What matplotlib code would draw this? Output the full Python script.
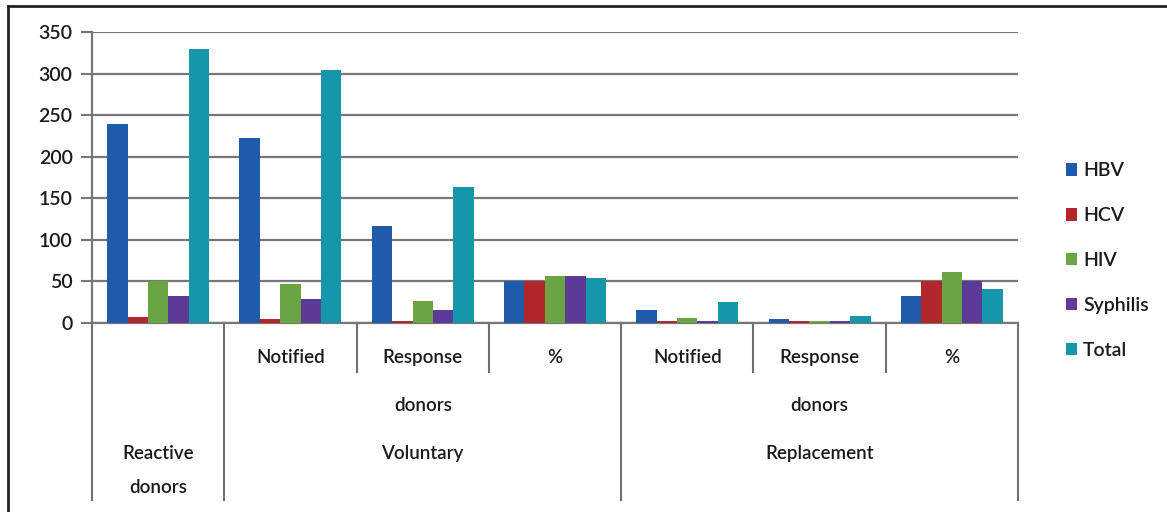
import matplotlib.pyplot as plt
from matplotlib.lines import Line2D
from matplotlib.patches import Patch
import numpy as np

plt.rcParams['font.family'] = ['Lato', 'DejaVu Sans']
plt.rcParams['font.weight'] = 'semibold'
plt.rcParams['text.color'] = '#1a1a1a'

series = ['HBV', 'HCV', 'HIV', 'Syphilis', 'Total']
colors = ['#1f5baa', '#b3262c', '#6aa544', '#5c3b98', '#1596aa']

# groups: Reactive donors | Voluntary: Notified, Response, % | Replacement: Notified, Response, %
hbv = [239, 223, 117, 51, 16, 5, 32]
hcv = [7, 5, 3, 51, 3, 2, 51]
hiv = [51, 47, 27, 57, 6, 2, 61]
syphilis = [32, 29, 16, 57, 3, 2, 51]
total = [330, 304, 163, 54, 25, 9, 41]

sub_labels = ['', 'Notified', 'Response', '%', 'Notified', 'Response', '%']
values = [hbv, hcv, hiv, syphilis, total]

fig = plt.figure(figsize=[11.67, 5.12], dpi=100)
ax = fig.add_axes([92 / 1167, 1 - 323 / 512, (1018 - 92) / 1167, 291 / 512])

x = np.arange(len(hbv))
w = 0.154
for i, (vals, c) in enumerate(zip(values, colors)):
    ax.bar(x + (i - 2) * w, vals, width=w, color=c, zorder=3)

ax.set_xlim(-0.5, 6.5)
ax.set_ylim(0, 350)
ax.set_yticks(range(0, 351, 50))
ax.tick_params(axis='y', labelsize=14, length=8, color='#777777', width=1.5, pad=6,
               labelcolor='#1a1a1a')
ax.tick_params(axis='x', length=0, labelbottom=False)
ax.grid(axis='y', color='#777777', linewidth=1.6, zorder=0)
for s in ['top', 'right']:
    ax.spines[s].set_visible(False)
for s in ['left', 'bottom']:
    ax.spines[s].set_color('#777777')
    ax.spines[s].set_linewidth(1.6)

# multi-level category axis
tr = ax.get_xaxis_transform()
for xs in [-0.5, 0.5, 3.5, 6.5]:
    ax.plot([xs, xs], [0, -0.608], transform=tr, color='#707070', lw=1.5, clip_on=False)
for xs in [1.5, 2.5, 4.5, 5.5]:
    ax.plot([xs, xs], [0, -0.168], transform=tr, color='#707070', lw=1.5, clip_on=False)
fs = 13.5
for xi, lab in zip(x, sub_labels):
    ax.text(xi, -0.117, lab, transform=tr, ha='center', va='center', fontsize=fs)
ax.text(0, -0.447, 'Reactive', transform=tr, ha='center', va='center', fontsize=fs)
ax.text(0, -0.564, 'donors', transform=tr, ha='center', va='center', fontsize=fs)
ax.text(2, -0.285, 'donors', transform=tr, ha='center', va='center', fontsize=fs)
ax.text(2, -0.447, 'Voluntary', transform=tr, ha='center', va='center', fontsize=fs)
ax.text(5, -0.285, 'donors', transform=tr, ha='center', va='center', fontsize=fs)
ax.text(5, -0.447, 'Replacement', transform=tr, ha='center', va='center', fontsize=fs)

handles = [Patch(facecolor=c, label=s) for s, c in zip(series, colors)]
fig.legend(handles=handles, loc='upper left', bbox_to_anchor=(1048 / 1167, 1 - 145 / 512),
           frameon=False, fontsize=14, handlelength=0.6, handleheight=0.6,
           handletextpad=0.3, labelspacing=1.43)

# outer frame
fig.add_artist(Line2D([8 / 1167, 1], [1 - 6 / 512, 1 - 6 / 512], color='#222222', lw=2))
fig.add_artist(Line2D([8 / 1167, 8 / 1167], [0, 1 - 6 / 512], color='#222222', lw=2))

plt.savefig('out.png', dpi=100)
